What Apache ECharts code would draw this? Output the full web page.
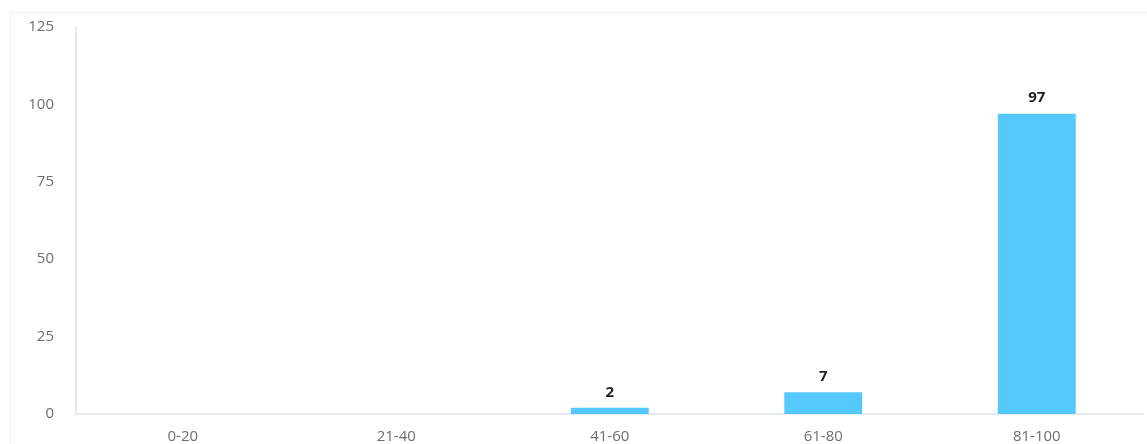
<!DOCTYPE html>
<html>
<head>
<meta charset="utf-8">
<script src="https://cdn.jsdelivr.net/npm/echarts@6/dist/echarts.min.js"></script>
<style>
html,body{margin:0;padding:0;background:#fff;}
#frame{position:absolute;left:10px;top:12px;width:1200px;height:500px;border:1px solid #eeeeee;box-sizing:border-box;}
#chart{position:absolute;left:0;top:0;width:1147px;height:444px;}
</style>
</head>
<body>
<div id="frame"></div>
<div id="chart"></div>
<script>
var categories = ['0-20', '21-40', '41-60', '61-80', '81-100'];
var counts = [0, 0, 2, 7, 97];
var yTicks = [0, 25, 50, 75, 100, 125];

var chart = echarts.init(document.getElementById('chart'));
chart.setOption({
  animation: false,
  grid: {left: 76, right: 3.5, top: 27, bottom: 30, containLabel: false},
  xAxis: {
    type: 'category',
    data: categories,
    axisLine: {lineStyle: {color: '#dde2ee', width: 1.5}},
    axisTick: {show: false},
    axisLabel: {color: '#6e6e6e', fontSize: 15, margin: 15, fontFamily: 'Open Sans, sans-serif'}
  },
  yAxis: {
    type: 'value',
    min: yTicks[0],
    max: yTicks[yTicks.length - 1],
    interval: 25,
    axisLine: {show: true, lineStyle: {color: '#dde2ee', width: 1.5}},
    axisTick: {show: false},
    splitLine: {show: false},
    axisLabel: {color: '#6e6e6e', fontSize: 15, margin: 22, fontFamily: 'Open Sans, sans-serif'}
  },
  series: [{
    type: 'bar',
    data: counts,
    barWidth: '36.5%',
    itemStyle: {color: '#55c8fc'},
    label: {
      show: true,
      position: 'top',
      distance: 8,
      color: '#222',
      fontWeight: 'bold',
      fontSize: 15,
      fontFamily: 'Open Sans, sans-serif',
      formatter: function (p) { return p.value ? p.value : ''; }
    }
  }]
});
</script>
</body>
</html>
